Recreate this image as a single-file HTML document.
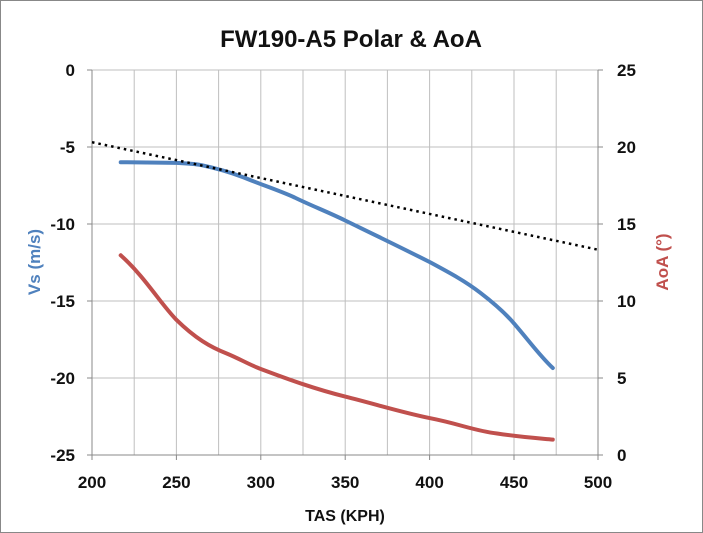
<!DOCTYPE html>
<html><head><style>body{margin:0;background:#fff}svg{display:block}</style></head><body>
<svg width="703" height="533" xmlns="http://www.w3.org/2000/svg" font-family="Liberation Sans, sans-serif" font-weight="bold">
<rect x="0.5" y="0.5" width="702" height="532" fill="#fff" stroke="#888"/>
<text x="351" y="47" text-anchor="middle" font-size="24" fill="#111">FW190-A5 Polar &amp; AoA</text>
<g stroke="#bfbfbf" stroke-width="1">
<line x1="134.2" y1="70" x2="134.2" y2="455"/><line x1="176.4" y1="70" x2="176.4" y2="455"/><line x1="218.6" y1="70" x2="218.6" y2="455"/><line x1="260.8" y1="70" x2="260.8" y2="455"/><line x1="303" y1="70" x2="303" y2="455"/><line x1="345.2" y1="70" x2="345.2" y2="455"/><line x1="387.4" y1="70" x2="387.4" y2="455"/><line x1="429.6" y1="70" x2="429.6" y2="455"/><line x1="471.8" y1="70" x2="471.8" y2="455"/><line x1="514" y1="70" x2="514" y2="455"/><line x1="556.2" y1="70" x2="556.2" y2="455"/>
<line x1="92" y1="70" x2="598" y2="70"/><line x1="92" y1="147" x2="598" y2="147"/><line x1="92" y1="224" x2="598" y2="224"/><line x1="92" y1="301" x2="598" y2="301"/><line x1="92" y1="378" x2="598" y2="378"/>
</g>
<g stroke="#888" stroke-width="1">
<line x1="92" y1="70" x2="92" y2="455"/><line x1="598" y1="70" x2="598" y2="455"/><line x1="92" y1="455" x2="598" y2="455"/>
<line x1="176.4" y1="455" x2="176.4" y2="460"/><line x1="260.8" y1="455" x2="260.8" y2="460"/><line x1="345.2" y1="455" x2="345.2" y2="460"/><line x1="429.6" y1="455" x2="429.6" y2="460"/><line x1="514" y1="455" x2="514" y2="460"/><line x1="598" y1="455" x2="598" y2="460"/><line x1="92" y1="455" x2="92" y2="460"/>
<line x1="87" y1="70" x2="92" y2="70"/><line x1="87" y1="147" x2="92" y2="147"/><line x1="87" y1="224" x2="92" y2="224"/><line x1="87" y1="301" x2="92" y2="301"/><line x1="87" y1="378" x2="92" y2="378"/><line x1="87" y1="455" x2="92" y2="455"/>
<line x1="598" y1="70" x2="603" y2="70"/><line x1="598" y1="147" x2="603" y2="147"/><line x1="598" y1="224" x2="603" y2="224"/><line x1="598" y1="301" x2="603" y2="301"/><line x1="598" y1="378" x2="603" y2="378"/><line x1="598" y1="455" x2="603" y2="455"/>
</g>
<g font-size="17" fill="#111" text-anchor="end">
<text x="75" y="76">0</text><text x="75" y="153">-5</text><text x="75" y="230">-10</text><text x="75" y="307">-15</text><text x="75" y="384">-20</text><text x="75" y="461">-25</text>
</g>
<g font-size="17" fill="#111" text-anchor="start">
<text x="617" y="76">25</text><text x="617" y="153">20</text><text x="617" y="230">15</text><text x="617" y="307">10</text><text x="617" y="384">5</text><text x="617" y="461">0</text>
</g>
<g font-size="17" fill="#111" text-anchor="middle">
<text x="92" y="488">200</text><text x="176.4" y="488">250</text><text x="260.8" y="488">300</text><text x="345.2" y="488">350</text><text x="429.6" y="488">400</text><text x="514" y="488">450</text><text x="598" y="488">500</text>
</g>
<text x="345" y="521" text-anchor="middle" font-size="16" fill="#111">TAS (KPH)</text>
<text transform="translate(40,262) rotate(-90)" text-anchor="middle" font-size="17" fill="#4f81bd">Vs (m/s)</text>
<text transform="translate(668,262) rotate(-90)" text-anchor="middle" font-size="17" fill="#c0504d">AoA (°)</text>
<path d="M120.7,162.2 C150,162.5 165,162.6 176.4,162.9 C190,163.5 196,164 201.7,165.2 C220,169 232,173 243.9,177.5 C262,185 278,190 294.6,197.5 C312,206 328,212 345.2,220.5 C375,235 400,247 429.6,262 C450,273 465,281 480.2,292.7 C495,304 505,313 514,323.4 C530,342 540,356 552.8,368" fill="none" stroke="#4f81bd" stroke-width="4" stroke-linecap="round"/>
<path d="M120.7,255.3 C145,277 160,303 176.4,319.8 C195,338 210,347 227,353.6 C240,359 250,365 260.8,369 C290,380 315,389 345.2,396.6 C375,404 400,412 429.6,418.1 C460,424 475,431 497.1,433.5 C520,437 535,438 552.8,439.6" fill="none" stroke="#c0504d" stroke-width="4" stroke-linecap="round"/>
<line x1="92" y1="142.2" x2="598" y2="249.7" stroke="#000" stroke-width="2.5" stroke-dasharray="2.5 4"/>
</svg>
</body></html>
